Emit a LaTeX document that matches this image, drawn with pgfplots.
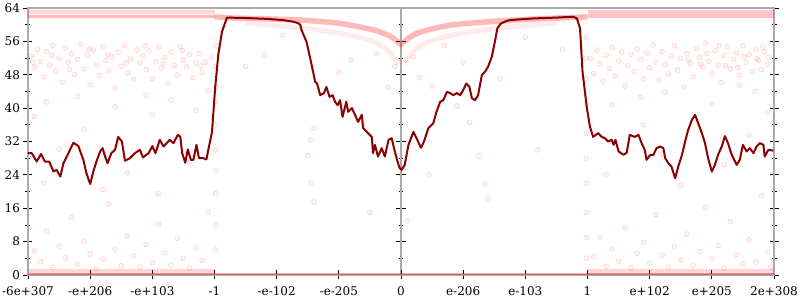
\documentclass[border=0pt]{standalone}
\usepackage{fontspec}
\setmainfont{DejaVu Serif}
\usepackage{pgfplots}
\pgfplotsset{compat=1.18}
\definecolor{dred}{RGB}{139,0,0}
\definecolor{axgray}{RGB}{170,170,170}
\begin{document}
\begin{tikzpicture}
% centre y line at x=0
\begin{axis}[scale only axis, width=746pt, height=267pt,
  xmin=-6, xmax=6, ymin=0, ymax=64,
  axis x line=none, axis y line=center,
  axis line style={-, axgray, line width=1.5pt},
  ytick={0,8,...,64}, yticklabels={}, yticklabel style={opacity=0, text opacity=0},
  minor y tick num=1,
  xtick=\empty, tick align=center,
  major tick length=10pt, minor tick length=4pt,
  tick style={black, line width=0.8pt}]
\end{axis}
\begin{axis}[scale only axis, width=746pt, height=267pt,
  xmin=-6, xmax=6, ymin=0, ymax=64,
  axis line style={axgray, line width=1.5pt},
  xtick={-6,-5,...,6},
  xticklabels={-6e+307,-e+206,-e+103,-1,-e-102,-e-205,0,e-206,e-103,1,e+102,e+205,2e+308},
  ytick={0,8,...,64}, yticklabels={0,8,16,24,32,40,48,56,64},
  minor y tick num=1,
  xtick pos=left, ytick pos=both, yticklabel pos=left,
  tick align=center,
  major tick length=9pt, minor tick length=5pt,
  tick style={black, line width=0.8pt},
  tick label style={font=\fontsize{12}{14}\selectfont},
  xticklabel style={yshift=-4pt},
  clip=true]
\coordinate (bl) at (rel axis cs:0,0);
\coordinate (tr) at (rel axis cs:1,1);
% bands
\addplot[red, opacity=0.16, line width=4pt] coordinates {(-6,63.0) (-3,63.0)};
\addplot[red, opacity=0.28, line width=3.5pt] coordinates {(-6,62.0) (-3,62.0)};
\addplot[red, opacity=0.22, line width=4pt] coordinates {(3,63.0) (6,63.0)};
\addplot[red, opacity=0.24, line width=3.5pt] coordinates {(3,62.1) (6,62.1)};
\addplot[red, opacity=0.28, line width=5.5pt, smooth] coordinates {
(-3.0,61.9) (-2.7,61.6) (-2.2,61.4) (-1.62,61.1) (-1.09,60.5) (-0.82,59.9) (-0.55,59.1) (-0.4,58.6) (-0.28,57.9) (-0.18,57.3) (-0.12,56.7) (-0.06,56.0) (0,55.3)
(0.06,56.0) (0.12,56.8) (0.25,57.9) (0.4,58.6) (0.52,59.1) (0.8,59.9) (1.06,60.3) (1.59,60.9) (2.2,61.4) (2.7,61.7) (3.0,61.9)};
\addplot[red, opacity=0.08, line width=5pt, smooth] coordinates {
(-2.5,60.4) (-1.6,59.2) (-1.0,58.0) (-0.55,56.5) (-0.3,54.8) (-0.15,52.8) (-0.05,50.5)};
\addplot[red, opacity=0.08, line width=5pt, smooth] coordinates {
(0.05,50.5) (0.15,52.8) (0.3,54.8) (0.55,56.5) (1.0,58.0) (1.6,59.2) (2.5,60.4)};
\addplot[red, opacity=0.16, line width=5pt] coordinates {(-6,0.9) (-3,0.9)};
\addplot[red, opacity=0.16, line width=5pt] coordinates {(3,0.9) (6,0.9)};
\addplot[red, opacity=0.35, line width=2pt] coordinates {(-6,0.2) (6,0.2)};
% scattered points
\addplot[only marks, mark=*, mark size=2.5pt,
  mark options={fill=red, fill opacity=0.05, draw=red, draw opacity=0.16, line width=0.5pt}]
coordinates {
(-5.95,52.5) (-5.9,49.8) (-5.85,54.1) (-5.8,51.2) (-5.75,47.5) (-5.7,53.6) (-5.65,50.3) (-5.6,55.0) (-5.55,48.9) (-5.5,52.0)
(-5.45,46.2) (-5.4,54.4) (-5.35,50.9) (-5.3,53.0) (-5.25,48.1) (-5.2,51.7) (-5.15,55.3) (-5.1,49.4) (-5.05,52.8) (-5.0,45.6)
(-4.95,53.9) (-4.9,50.5) (-4.85,47.8) (-4.8,54.7) (-4.75,51.4) (-4.7,49.0) (-4.65,52.3) (-4.6,44.8) (-4.55,53.3) (-4.5,50.0)
(-4.45,55.1) (-4.4,48.4) (-4.35,51.9) (-4.3,46.9) (-4.25,54.0) (-4.2,50.7) (-4.15,52.6) (-4.1,49.2) (-4.05,53.7) (-4.0,47.1)
(-3.95,51.1) (-3.9,54.6) (-3.85,49.6) (-3.8,52.2) (-3.75,45.9) (-3.7,53.4) (-3.65,50.2) (-3.6,48.0) (-3.55,54.8) (-3.5,51.5)
(-3.45,49.9) (-3.4,52.9) (-3.35,47.3) (-3.3,50.8) (-3.25,53.1) (-3.2,48.6) (-3.15,51.0) (-3.1,44.2) (-3.05,52.4)
(-5.92,51.0) (-5.62,52.7) (-5.33,49.3) (-5.02,54.2) (-4.72,52.9) (-4.42,50.8) (-4.12,54.9) (-3.82,50.6) (-3.52,53.8) (-3.22,50.1)
(-5.7,41.5) (-5.2,42.8) (-4.6,40.3) (-4.1,43.0) (-3.7,41.9) (-5.9,38.0) (-3.3,39.5)
(3.05,51.8) (3.1,48.3) (3.15,53.9) (3.2,50.6) (3.25,46.4) (3.3,52.7) (3.35,49.5) (3.4,54.5) (3.45,47.7) (3.5,51.3)
(3.55,53.5) (3.6,45.3) (3.65,50.1) (3.7,52.9) (3.75,48.8) (3.8,54.2) (3.85,51.6) (3.9,47.0) (3.95,53.2) (4.0,49.7)
(4.05,55.2) (4.1,51.0) (4.15,46.7) (4.2,53.6) (4.25,50.4) (4.3,48.2) (4.35,52.5) (4.4,54.9) (4.45,49.1) (4.5,51.9)
(4.55,45.0) (4.6,53.0) (4.65,50.7) (4.7,47.6) (4.75,54.3) (4.8,52.1) (4.85,49.8) (4.9,55.6) (4.95,51.2) (5.0,48.5)
(5.05,53.8) (5.1,50.3) (5.15,46.1) (5.2,52.6) (5.25,54.7) (5.3,49.4) (5.35,51.7) (5.4,53.3) (5.45,47.9) (5.5,55.0)
(5.55,50.9) (5.6,52.8) (5.65,48.7) (5.7,54.0) (5.75,51.4) (5.8,49.2) (5.85,53.5) (5.9,50.5) (5.95,55.4) (5.45,45.5)
(4.62,51.5) (4.92,53.1) (5.22,50.2) (5.52,52.4) (5.82,54.6) (5.12,55.0) (5.42,49.8) (5.72,51.9) (4.82,50.6) (5.92,52.2)
(4.25,43.8) (3.85,42.6) (5.0,41.0) (5.7,44.0) (3.4,40.8)
(-5.9,5.8) (-5.8,3.2) (-5.7,10.5) (-5.6,1.8) (-5.5,6.9) (-5.4,4.1) (-5.3,13.8) (-5.2,2.6) (-5.1,8.2) (-5.0,5.0)
(-4.9,1.5) (-4.8,3.8) (-4.7,17.0) (-4.6,6.1) (-4.5,2.2) (-4.4,9.4) (-4.3,4.6) (-4.2,1.9) (-4.1,7.3) (-4.0,3.0)
(-3.9,12.2) (-3.8,5.4) (-3.7,2.4) (-3.6,8.8) (-3.5,4.0) (-3.4,1.6) (-3.3,6.5) (-3.2,3.5) (-3.1,15.0)
(-5.75,22.0) (-5.1,35.0) (-4.4,24.5) (-3.9,19.5) (-3.4,27.0) (-5.5,30.2) (-4.0,38.5) (-4.8,20.5)
(3.1,4.4) (3.2,9.0) (3.3,2.1) (3.4,6.3) (3.5,3.3) (3.6,11.5) (3.7,1.7) (3.8,5.2) (3.9,7.8) (4.0,2.8)
(4.1,14.5) (4.2,4.7) (4.3,1.9) (4.4,6.8) (4.5,3.6) (4.6,9.8) (4.7,2.3) (4.8,5.6) (4.9,16.2) (5.0,3.9)
(5.1,7.1) (5.2,1.6) (5.3,12.8) (5.4,4.9) (5.5,2.7) (5.6,8.5) (5.7,3.1) (5.8,19.0) (5.9,5.5) (5.95,1.9)
(3.3,24.0) (3.9,36.0) (4.5,21.5) (5.2,26.5) (5.6,33.5) (4.2,29.0) (5.9,39.0)
(-2.98,45.0) (-2.98,41.5) (-2.98,36.0) (-2.98,30.0) (-2.98,25.0) (-2.98,19.5) (-2.98,12.0) (-2.98,6.0) (-2.98,50.0) (-2.98,55.0)
(2.98,47.0) (2.98,41.0) (2.98,34.0) (2.98,28.0) (2.98,22.0) (2.98,15.0) (2.98,9.0) (2.98,4.0) (2.98,52.0) (2.98,57.0)
(-1.45,32.4) (-1.4,35.2) (-1.5,28.6) (-1.45,22.0) (-1.4,17.5) (-0.6,36.3) (-0.5,15.0) (-1.0,48.5) (-0.4,53.0) (-0.8,51.5)
(-2.2,52.6) (-2.5,50.0) (-1.9,57.4) (-0.2,45.0) (-0.1,50.0)
(0.5,45.3) (0.9,40.5) (1.1,36.6) (1.25,28.7) (1.35,21.8) (1.4,18.1) (0.7,55.0) (1.0,51.0) (1.6,47.0) (2.0,57.0)
(2.6,54.0) (0.2,52.3) (0.3,47.4) (0.45,24.0) (2.2,30.0) (0.1,13.0)
};
% main line
\addplot[dred, line width=2pt, line join=round] coordinates {
(-6.0,29.2) (-5.94,29.2) (-5.86,27.2) (-5.79,29.0) (-5.73,27.2) (-5.66,27.2) (-5.59,24.8) (-5.54,25.2) (-5.48,23.6) (-5.43,26.8)
(-5.35,29.2) (-5.27,31.7) (-5.19,30.9) (-5.11,27.6) (-5.06,24.4) (-5.00,21.8) (-4.95,24.8) (-4.89,27.6) (-4.84,29.6) (-4.80,30.4)
(-4.76,28.4) (-4.72,26.8) (-4.66,29.2) (-4.60,30.0) (-4.55,33.1) (-4.49,32.0) (-4.44,27.4) (-4.36,28.0) (-4.28,29.2) (-4.20,30.0)
(-4.15,28.2) (-4.06,29.2) (-4.00,30.9) (-3.95,29.2) (-3.88,32.4) (-3.82,30.8) (-3.77,31.6) (-3.72,32.4) (-3.66,31.6) (-3.59,33.6)
(-3.55,33.1) (-3.52,29.2) (-3.47,26.9) (-3.43,30.1) (-3.38,27.6) (-3.34,27.6) (-3.29,31.2) (-3.25,28.0) (-3.18,28.0) (-3.13,27.7)
(-3.10,30.0) (-3.04,34.3) (-2.99,44.8) (-2.94,52.7) (-2.88,58.3) (-2.80,61.7) (-2.5,61.6) (-2.16,61.4) (-1.9,61.1) (-1.73,60.7)
(-1.66,60.4) (-1.62,60.0) (-1.60,58.7) (-1.52,55.9) (-1.46,51.9) (-1.38,46.3) (-1.35,45.9) (-1.30,43.1) (-1.24,43.6) (-1.20,45.1)
(-1.15,42.7) (-1.10,43.1) (-1.06,41.5) (-1.02,40.7) (-0.98,41.9) (-0.94,37.9) (-0.88,41.5) (-0.85,39.1) (-0.79,40.0) (-0.74,38.4)
(-0.69,36.7) (-0.63,38.4) (-0.61,35.2) (-0.53,34.0) (-0.47,33.1) (-0.45,29.2) (-0.42,31.2) (-0.37,28.4) (-0.31,30.4) (-0.26,28.4)
(-0.20,32.4) (-0.15,32.8) (-0.10,29.6) (-0.04,26.4) (-0.02,25.6) (0.01,25.2) (0.06,26.4) (0.12,31.2) (0.20,34.3) (0.25,32.8)
(0.32,30.5) (0.37,32.0) (0.44,35.2) (0.52,36.4) (0.57,39.1) (0.63,41.5) (0.68,41.9) (0.74,43.9) (0.79,43.6) (0.84,43.1)
(0.90,43.6) (0.95,43.1) (1.00,44.3) (1.05,45.9) (1.10,45.1) (1.14,42.4) (1.19,41.9) (1.24,43.1) (1.30,47.9) (1.35,48.7)
(1.40,49.9) (1.46,52.3) (1.51,55.9) (1.55,59.1) (1.60,60.2) (1.68,60.8) (1.75,61.1) (2.13,61.5) (2.5,61.7) (2.77,61.9)
(2.83,61.5) (2.88,59.1) (2.92,48.7) (2.99,40.0) (3.04,35.5) (3.09,33.1) (3.17,34.0) (3.23,33.1) (3.28,32.8) (3.33,32.0)
(3.39,32.4) (3.42,31.2) (3.45,32.4) (3.50,29.6) (3.58,28.8) (3.63,29.3) (3.68,33.6) (3.76,33.1) (3.82,33.6) (3.87,31.6)
(3.92,30.0) (3.95,27.6) (4.01,28.8) (4.06,28.8) (4.11,30.4) (4.17,30.8) (4.22,30.4) (4.25,28.0) (4.30,26.8) (4.35,26.0)
(4.41,23.2) (4.46,26.0) (4.52,28.8) (4.57,32.0) (4.62,34.8) (4.68,37.2) (4.73,38.4) (4.78,36.4) (4.84,34.0) (4.89,31.6)
(4.94,28.0) (5.00,24.8) (5.05,26.4) (5.10,28.8) (5.16,30.8) (5.21,33.3) (5.26,31.6) (5.32,28.8) (5.40,26.4) (5.45,27.6)
(5.50,31.2) (5.56,29.6) (5.61,30.4) (5.67,29.2) (5.72,30.8) (5.77,31.6) (5.83,31.2) (5.85,28.4) (5.91,30.0) (5.99,29.8)
};
\end{axis}
\pgfresetboundingbox
\path[use as bounding box] ([xshift=-28pt,yshift=-25pt]bl) rectangle ([xshift=26pt,yshift=8pt]tr);
\end{tikzpicture}
\end{document}
